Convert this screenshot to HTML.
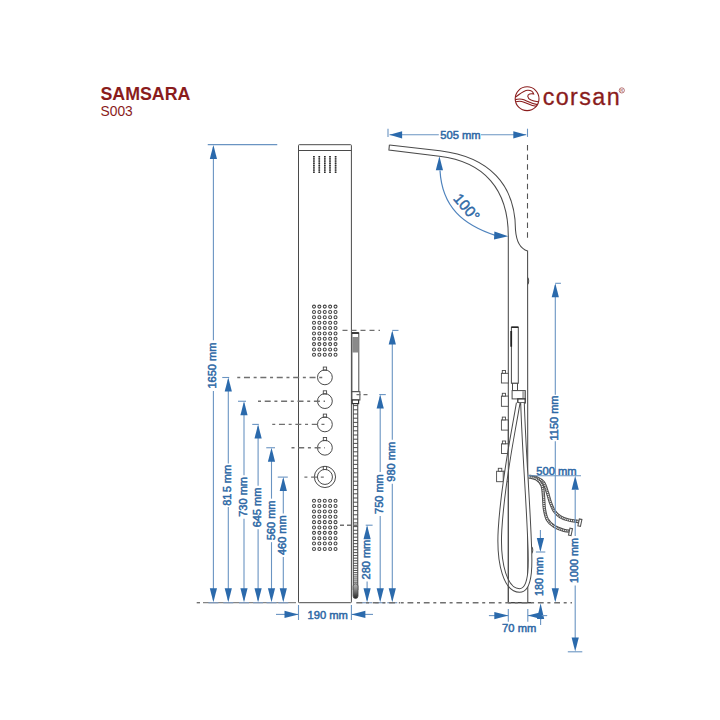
<!DOCTYPE html><html><head><meta charset="utf-8"><style>html,body{margin:0;padding:0;background:#fff;width:720px;height:720px;overflow:hidden}svg{display:block}</style></head><body><svg width="720" height="720" viewBox="0 0 720 720" font-family="Liberation Sans, sans-serif">
<rect width="720" height="720" fill="#ffffff"/>
<text x="100.5" y="99.5" font-size="17.8" font-weight="bold" fill="#8a1c1c">SAMSARA</text>
<text x="100.5" y="115.8" font-size="13.8" fill="#8a1c1c">S003</text>
<g fill="none" stroke="#8a1c1c" stroke-width="1.1"><circle cx="527.1" cy="98.7" r="11.9"/><path d="M515.3,97.2 C519,95 523,90.5 527.8,90.3 C531,90.2 533,92 533.6,94 C531,93.2 527.5,94.2 527.8,96.5 C528.2,99.5 533,101.2 538.2,101.8"/><path d="M515.2,99.6 C518,98.8 521,98.6 524,99.8 C528,101.5 532,103.8 537.6,104.6"/><path d="M516,101.8 C518.5,101 521,101 524,102.2 C528,104 531,105.6 536.4,106.3"/></g>
<text x="542.7" y="105" font-size="23.3" letter-spacing="1.4" fill="#8a1c1c" stroke="#8a1c1c" stroke-width="0.3">corsan</text>
<circle cx="621.8" cy="90.4" r="2.6" fill="none" stroke="#8a1c1c" stroke-width="0.6"/>
<text x="621.8" y="92.1" font-size="4" text-anchor="middle" fill="#8a1c1c">R</text>
<g fill="none" stroke="#4a4a4a" stroke-width="1">
<rect x="298.5" y="144.7" width="52.9" height="458" rx="0.8"/>
<line x1="298.5" y1="150.5" x2="351.4" y2="150.5"/>
</g>
<line x1="313.9" y1="156" x2="313.9" y2="172.8" stroke="#8a8a8a" stroke-width="1.5"/>
<rect x="313.10" y="156.00" width="1.6" height="1.15" fill="#2a2a2a"/>
<rect x="313.10" y="158.26" width="1.6" height="1.15" fill="#2a2a2a"/>
<rect x="313.10" y="160.52" width="1.6" height="1.15" fill="#2a2a2a"/>
<rect x="313.10" y="162.78" width="1.6" height="1.15" fill="#2a2a2a"/>
<rect x="313.10" y="165.04" width="1.6" height="1.15" fill="#2a2a2a"/>
<rect x="313.10" y="167.30" width="1.6" height="1.15" fill="#2a2a2a"/>
<rect x="313.10" y="169.56" width="1.6" height="1.15" fill="#2a2a2a"/>
<rect x="313.10" y="171.82" width="1.6" height="1.15" fill="#2a2a2a"/>
<line x1="319.3" y1="156" x2="319.3" y2="172.8" stroke="#8a8a8a" stroke-width="1.5"/>
<rect x="318.50" y="156.00" width="1.6" height="1.15" fill="#2a2a2a"/>
<rect x="318.50" y="158.26" width="1.6" height="1.15" fill="#2a2a2a"/>
<rect x="318.50" y="160.52" width="1.6" height="1.15" fill="#2a2a2a"/>
<rect x="318.50" y="162.78" width="1.6" height="1.15" fill="#2a2a2a"/>
<rect x="318.50" y="165.04" width="1.6" height="1.15" fill="#2a2a2a"/>
<rect x="318.50" y="167.30" width="1.6" height="1.15" fill="#2a2a2a"/>
<rect x="318.50" y="169.56" width="1.6" height="1.15" fill="#2a2a2a"/>
<rect x="318.50" y="171.82" width="1.6" height="1.15" fill="#2a2a2a"/>
<line x1="324.8" y1="156" x2="324.8" y2="172.8" stroke="#8a8a8a" stroke-width="1.5"/>
<rect x="324.00" y="156.00" width="1.6" height="1.15" fill="#2a2a2a"/>
<rect x="324.00" y="158.26" width="1.6" height="1.15" fill="#2a2a2a"/>
<rect x="324.00" y="160.52" width="1.6" height="1.15" fill="#2a2a2a"/>
<rect x="324.00" y="162.78" width="1.6" height="1.15" fill="#2a2a2a"/>
<rect x="324.00" y="165.04" width="1.6" height="1.15" fill="#2a2a2a"/>
<rect x="324.00" y="167.30" width="1.6" height="1.15" fill="#2a2a2a"/>
<rect x="324.00" y="169.56" width="1.6" height="1.15" fill="#2a2a2a"/>
<rect x="324.00" y="171.82" width="1.6" height="1.15" fill="#2a2a2a"/>
<line x1="330.0" y1="156" x2="330.0" y2="172.8" stroke="#8a8a8a" stroke-width="1.5"/>
<rect x="329.20" y="156.00" width="1.6" height="1.15" fill="#2a2a2a"/>
<rect x="329.20" y="158.26" width="1.6" height="1.15" fill="#2a2a2a"/>
<rect x="329.20" y="160.52" width="1.6" height="1.15" fill="#2a2a2a"/>
<rect x="329.20" y="162.78" width="1.6" height="1.15" fill="#2a2a2a"/>
<rect x="329.20" y="165.04" width="1.6" height="1.15" fill="#2a2a2a"/>
<rect x="329.20" y="167.30" width="1.6" height="1.15" fill="#2a2a2a"/>
<rect x="329.20" y="169.56" width="1.6" height="1.15" fill="#2a2a2a"/>
<rect x="329.20" y="171.82" width="1.6" height="1.15" fill="#2a2a2a"/>
<line x1="335.6" y1="156" x2="335.6" y2="172.8" stroke="#8a8a8a" stroke-width="1.5"/>
<rect x="334.80" y="156.00" width="1.6" height="1.15" fill="#2a2a2a"/>
<rect x="334.80" y="158.26" width="1.6" height="1.15" fill="#2a2a2a"/>
<rect x="334.80" y="160.52" width="1.6" height="1.15" fill="#2a2a2a"/>
<rect x="334.80" y="162.78" width="1.6" height="1.15" fill="#2a2a2a"/>
<rect x="334.80" y="165.04" width="1.6" height="1.15" fill="#2a2a2a"/>
<rect x="334.80" y="167.30" width="1.6" height="1.15" fill="#2a2a2a"/>
<rect x="334.80" y="169.56" width="1.6" height="1.15" fill="#2a2a2a"/>
<rect x="334.80" y="171.82" width="1.6" height="1.15" fill="#2a2a2a"/>
<circle cx="314.00" cy="306.60" r="1.5" fill="none" stroke="#444" stroke-width="1.05"/>
<circle cx="319.38" cy="306.60" r="1.5" fill="none" stroke="#444" stroke-width="1.05"/>
<circle cx="324.76" cy="306.60" r="1.5" fill="none" stroke="#444" stroke-width="1.05"/>
<circle cx="330.14" cy="306.60" r="1.5" fill="none" stroke="#444" stroke-width="1.05"/>
<circle cx="335.52" cy="306.60" r="1.5" fill="none" stroke="#444" stroke-width="1.05"/>
<circle cx="314.00" cy="311.96" r="1.5" fill="none" stroke="#444" stroke-width="1.05"/>
<circle cx="319.38" cy="311.96" r="1.5" fill="none" stroke="#444" stroke-width="1.05"/>
<circle cx="324.76" cy="311.96" r="1.5" fill="none" stroke="#444" stroke-width="1.05"/>
<circle cx="330.14" cy="311.96" r="1.5" fill="none" stroke="#444" stroke-width="1.05"/>
<circle cx="335.52" cy="311.96" r="1.5" fill="none" stroke="#444" stroke-width="1.05"/>
<circle cx="314.00" cy="317.32" r="1.5" fill="none" stroke="#444" stroke-width="1.05"/>
<circle cx="319.38" cy="317.32" r="1.5" fill="none" stroke="#444" stroke-width="1.05"/>
<circle cx="324.76" cy="317.32" r="1.5" fill="none" stroke="#444" stroke-width="1.05"/>
<circle cx="330.14" cy="317.32" r="1.5" fill="none" stroke="#444" stroke-width="1.05"/>
<circle cx="335.52" cy="317.32" r="1.5" fill="none" stroke="#444" stroke-width="1.05"/>
<circle cx="314.00" cy="322.68" r="1.5" fill="none" stroke="#444" stroke-width="1.05"/>
<circle cx="319.38" cy="322.68" r="1.5" fill="none" stroke="#444" stroke-width="1.05"/>
<circle cx="324.76" cy="322.68" r="1.5" fill="none" stroke="#444" stroke-width="1.05"/>
<circle cx="330.14" cy="322.68" r="1.5" fill="none" stroke="#444" stroke-width="1.05"/>
<circle cx="335.52" cy="322.68" r="1.5" fill="none" stroke="#444" stroke-width="1.05"/>
<circle cx="314.00" cy="328.04" r="1.5" fill="none" stroke="#444" stroke-width="1.05"/>
<circle cx="319.38" cy="328.04" r="1.5" fill="none" stroke="#444" stroke-width="1.05"/>
<circle cx="324.76" cy="328.04" r="1.5" fill="none" stroke="#444" stroke-width="1.05"/>
<circle cx="330.14" cy="328.04" r="1.5" fill="none" stroke="#444" stroke-width="1.05"/>
<circle cx="335.52" cy="328.04" r="1.5" fill="none" stroke="#444" stroke-width="1.05"/>
<circle cx="314.00" cy="333.40" r="1.5" fill="none" stroke="#444" stroke-width="1.05"/>
<circle cx="319.38" cy="333.40" r="1.5" fill="none" stroke="#444" stroke-width="1.05"/>
<circle cx="324.76" cy="333.40" r="1.5" fill="none" stroke="#444" stroke-width="1.05"/>
<circle cx="330.14" cy="333.40" r="1.5" fill="none" stroke="#444" stroke-width="1.05"/>
<circle cx="335.52" cy="333.40" r="1.5" fill="none" stroke="#444" stroke-width="1.05"/>
<circle cx="314.00" cy="338.76" r="1.5" fill="none" stroke="#444" stroke-width="1.05"/>
<circle cx="319.38" cy="338.76" r="1.5" fill="none" stroke="#444" stroke-width="1.05"/>
<circle cx="324.76" cy="338.76" r="1.5" fill="none" stroke="#444" stroke-width="1.05"/>
<circle cx="330.14" cy="338.76" r="1.5" fill="none" stroke="#444" stroke-width="1.05"/>
<circle cx="335.52" cy="338.76" r="1.5" fill="none" stroke="#444" stroke-width="1.05"/>
<circle cx="314.00" cy="344.12" r="1.5" fill="none" stroke="#444" stroke-width="1.05"/>
<circle cx="319.38" cy="344.12" r="1.5" fill="none" stroke="#444" stroke-width="1.05"/>
<circle cx="324.76" cy="344.12" r="1.5" fill="none" stroke="#444" stroke-width="1.05"/>
<circle cx="330.14" cy="344.12" r="1.5" fill="none" stroke="#444" stroke-width="1.05"/>
<circle cx="335.52" cy="344.12" r="1.5" fill="none" stroke="#444" stroke-width="1.05"/>
<circle cx="314.00" cy="349.48" r="1.5" fill="none" stroke="#444" stroke-width="1.05"/>
<circle cx="319.38" cy="349.48" r="1.5" fill="none" stroke="#444" stroke-width="1.05"/>
<circle cx="324.76" cy="349.48" r="1.5" fill="none" stroke="#444" stroke-width="1.05"/>
<circle cx="330.14" cy="349.48" r="1.5" fill="none" stroke="#444" stroke-width="1.05"/>
<circle cx="335.52" cy="349.48" r="1.5" fill="none" stroke="#444" stroke-width="1.05"/>
<circle cx="314.00" cy="354.84" r="1.5" fill="none" stroke="#444" stroke-width="1.05"/>
<circle cx="319.38" cy="354.84" r="1.5" fill="none" stroke="#444" stroke-width="1.05"/>
<circle cx="324.76" cy="354.84" r="1.5" fill="none" stroke="#444" stroke-width="1.05"/>
<circle cx="330.14" cy="354.84" r="1.5" fill="none" stroke="#444" stroke-width="1.05"/>
<circle cx="335.52" cy="354.84" r="1.5" fill="none" stroke="#444" stroke-width="1.05"/>
<circle cx="314.00" cy="500.70" r="1.5" fill="none" stroke="#444" stroke-width="1.05"/>
<circle cx="319.38" cy="500.70" r="1.5" fill="none" stroke="#444" stroke-width="1.05"/>
<circle cx="324.76" cy="500.70" r="1.5" fill="none" stroke="#444" stroke-width="1.05"/>
<circle cx="330.14" cy="500.70" r="1.5" fill="none" stroke="#444" stroke-width="1.05"/>
<circle cx="335.52" cy="500.70" r="1.5" fill="none" stroke="#444" stroke-width="1.05"/>
<circle cx="314.00" cy="506.06" r="1.5" fill="none" stroke="#444" stroke-width="1.05"/>
<circle cx="319.38" cy="506.06" r="1.5" fill="none" stroke="#444" stroke-width="1.05"/>
<circle cx="324.76" cy="506.06" r="1.5" fill="none" stroke="#444" stroke-width="1.05"/>
<circle cx="330.14" cy="506.06" r="1.5" fill="none" stroke="#444" stroke-width="1.05"/>
<circle cx="335.52" cy="506.06" r="1.5" fill="none" stroke="#444" stroke-width="1.05"/>
<circle cx="314.00" cy="511.42" r="1.5" fill="none" stroke="#444" stroke-width="1.05"/>
<circle cx="319.38" cy="511.42" r="1.5" fill="none" stroke="#444" stroke-width="1.05"/>
<circle cx="324.76" cy="511.42" r="1.5" fill="none" stroke="#444" stroke-width="1.05"/>
<circle cx="330.14" cy="511.42" r="1.5" fill="none" stroke="#444" stroke-width="1.05"/>
<circle cx="335.52" cy="511.42" r="1.5" fill="none" stroke="#444" stroke-width="1.05"/>
<circle cx="314.00" cy="516.78" r="1.5" fill="none" stroke="#444" stroke-width="1.05"/>
<circle cx="319.38" cy="516.78" r="1.5" fill="none" stroke="#444" stroke-width="1.05"/>
<circle cx="324.76" cy="516.78" r="1.5" fill="none" stroke="#444" stroke-width="1.05"/>
<circle cx="330.14" cy="516.78" r="1.5" fill="none" stroke="#444" stroke-width="1.05"/>
<circle cx="335.52" cy="516.78" r="1.5" fill="none" stroke="#444" stroke-width="1.05"/>
<circle cx="314.00" cy="522.14" r="1.5" fill="none" stroke="#444" stroke-width="1.05"/>
<circle cx="319.38" cy="522.14" r="1.5" fill="none" stroke="#444" stroke-width="1.05"/>
<circle cx="324.76" cy="522.14" r="1.5" fill="none" stroke="#444" stroke-width="1.05"/>
<circle cx="330.14" cy="522.14" r="1.5" fill="none" stroke="#444" stroke-width="1.05"/>
<circle cx="335.52" cy="522.14" r="1.5" fill="none" stroke="#444" stroke-width="1.05"/>
<circle cx="314.00" cy="527.50" r="1.5" fill="none" stroke="#444" stroke-width="1.05"/>
<circle cx="319.38" cy="527.50" r="1.5" fill="none" stroke="#444" stroke-width="1.05"/>
<circle cx="324.76" cy="527.50" r="1.5" fill="none" stroke="#444" stroke-width="1.05"/>
<circle cx="330.14" cy="527.50" r="1.5" fill="none" stroke="#444" stroke-width="1.05"/>
<circle cx="335.52" cy="527.50" r="1.5" fill="none" stroke="#444" stroke-width="1.05"/>
<circle cx="314.00" cy="532.86" r="1.5" fill="none" stroke="#444" stroke-width="1.05"/>
<circle cx="319.38" cy="532.86" r="1.5" fill="none" stroke="#444" stroke-width="1.05"/>
<circle cx="324.76" cy="532.86" r="1.5" fill="none" stroke="#444" stroke-width="1.05"/>
<circle cx="330.14" cy="532.86" r="1.5" fill="none" stroke="#444" stroke-width="1.05"/>
<circle cx="335.52" cy="532.86" r="1.5" fill="none" stroke="#444" stroke-width="1.05"/>
<circle cx="314.00" cy="538.22" r="1.5" fill="none" stroke="#444" stroke-width="1.05"/>
<circle cx="319.38" cy="538.22" r="1.5" fill="none" stroke="#444" stroke-width="1.05"/>
<circle cx="324.76" cy="538.22" r="1.5" fill="none" stroke="#444" stroke-width="1.05"/>
<circle cx="330.14" cy="538.22" r="1.5" fill="none" stroke="#444" stroke-width="1.05"/>
<circle cx="335.52" cy="538.22" r="1.5" fill="none" stroke="#444" stroke-width="1.05"/>
<circle cx="314.00" cy="543.58" r="1.5" fill="none" stroke="#444" stroke-width="1.05"/>
<circle cx="319.38" cy="543.58" r="1.5" fill="none" stroke="#444" stroke-width="1.05"/>
<circle cx="324.76" cy="543.58" r="1.5" fill="none" stroke="#444" stroke-width="1.05"/>
<circle cx="330.14" cy="543.58" r="1.5" fill="none" stroke="#444" stroke-width="1.05"/>
<circle cx="335.52" cy="543.58" r="1.5" fill="none" stroke="#444" stroke-width="1.05"/>
<circle cx="314.00" cy="548.94" r="1.5" fill="none" stroke="#444" stroke-width="1.05"/>
<circle cx="319.38" cy="548.94" r="1.5" fill="none" stroke="#444" stroke-width="1.05"/>
<circle cx="324.76" cy="548.94" r="1.5" fill="none" stroke="#444" stroke-width="1.05"/>
<circle cx="330.14" cy="548.94" r="1.5" fill="none" stroke="#444" stroke-width="1.05"/>
<circle cx="335.52" cy="548.94" r="1.5" fill="none" stroke="#444" stroke-width="1.05"/>
<circle cx="324.9" cy="377.35" r="7.4" fill="none" stroke="#4a4a4a" stroke-width="1"/>
<rect x="323.3" y="367.05" width="3.3" height="3.2" fill="none" stroke="#4a4a4a" stroke-width="0.9"/>
<circle cx="324.9" cy="401.1" r="7.4" fill="none" stroke="#4a4a4a" stroke-width="1"/>
<rect x="323.3" y="390.80" width="3.3" height="3.2" fill="none" stroke="#4a4a4a" stroke-width="0.9"/>
<circle cx="324.9" cy="424.4" r="7.4" fill="none" stroke="#4a4a4a" stroke-width="1"/>
<rect x="323.3" y="414.10" width="3.3" height="3.2" fill="none" stroke="#4a4a4a" stroke-width="0.9"/>
<circle cx="324.9" cy="447.75" r="7.4" fill="none" stroke="#4a4a4a" stroke-width="1"/>
<rect x="323.3" y="437.45" width="3.3" height="3.2" fill="none" stroke="#4a4a4a" stroke-width="0.9"/>
<circle cx="324.95" cy="476.95" r="10.6" fill="none" stroke="#4a4a4a" stroke-width="1"/>
<circle cx="324.95" cy="476.95" r="7.5" fill="none" stroke="#4a4a4a" stroke-width="1"/>
<rect x="323.3" y="466.4" width="3.3" height="3.1" fill="#fff" stroke="#4a4a4a" stroke-width="0.9"/>
<rect x="351.9" y="333" width="6.9" height="58.7" fill="#fff" stroke="#4a4a4a" stroke-width="1"/>
<line x1="351.9" y1="333" x2="358.8" y2="333" stroke="#222" stroke-width="1.6"/>
<rect x="352.4" y="337" width="5.9" height="15.5" fill="#8a8a8a"/>
<rect x="351.9" y="391.7" width="8" height="8.3" fill="#fff" stroke="#4a4a4a" stroke-width="1"/>
<rect x="352.2" y="400" width="6.4" height="3.6" fill="#fff" stroke="#333" stroke-width="1.2"/>
<line x1="353.3" y1="404" x2="353.3" y2="590" stroke="#4a4a4a" stroke-width="1.05"/>
<line x1="357.75" y1="404" x2="357.75" y2="590" stroke="#4a4a4a" stroke-width="1.05"/>
<line x1="353.3" y1="405.60" x2="357.75" y2="405.60" stroke="#444" stroke-width="0.95"/>
<line x1="353.3" y1="409.80" x2="357.75" y2="409.80" stroke="#444" stroke-width="0.95"/>
<line x1="353.3" y1="414.00" x2="357.75" y2="414.00" stroke="#444" stroke-width="0.95"/>
<line x1="353.3" y1="418.20" x2="357.75" y2="418.20" stroke="#444" stroke-width="0.95"/>
<line x1="353.3" y1="422.40" x2="357.75" y2="422.40" stroke="#444" stroke-width="0.95"/>
<line x1="353.3" y1="426.60" x2="357.75" y2="426.60" stroke="#444" stroke-width="0.95"/>
<line x1="353.3" y1="430.80" x2="357.75" y2="430.80" stroke="#444" stroke-width="0.95"/>
<line x1="353.3" y1="435.00" x2="357.75" y2="435.00" stroke="#444" stroke-width="0.95"/>
<line x1="353.3" y1="439.20" x2="357.75" y2="439.20" stroke="#444" stroke-width="0.95"/>
<line x1="353.3" y1="443.40" x2="357.75" y2="443.40" stroke="#444" stroke-width="0.95"/>
<line x1="353.3" y1="447.60" x2="357.75" y2="447.60" stroke="#444" stroke-width="0.95"/>
<line x1="353.3" y1="451.80" x2="357.75" y2="451.80" stroke="#444" stroke-width="0.95"/>
<line x1="353.3" y1="456.00" x2="357.75" y2="456.00" stroke="#444" stroke-width="0.95"/>
<line x1="353.3" y1="460.20" x2="357.75" y2="460.20" stroke="#444" stroke-width="0.95"/>
<line x1="353.3" y1="464.40" x2="357.75" y2="464.40" stroke="#444" stroke-width="0.95"/>
<line x1="353.3" y1="468.60" x2="357.75" y2="468.60" stroke="#444" stroke-width="0.95"/>
<line x1="353.3" y1="472.80" x2="357.75" y2="472.80" stroke="#444" stroke-width="0.95"/>
<line x1="353.3" y1="477.00" x2="357.75" y2="477.00" stroke="#444" stroke-width="0.95"/>
<line x1="353.3" y1="481.20" x2="357.75" y2="481.20" stroke="#444" stroke-width="0.95"/>
<line x1="353.3" y1="485.40" x2="357.75" y2="485.40" stroke="#444" stroke-width="0.95"/>
<line x1="353.3" y1="489.60" x2="357.75" y2="489.60" stroke="#444" stroke-width="0.95"/>
<line x1="353.3" y1="493.80" x2="357.75" y2="493.80" stroke="#444" stroke-width="0.95"/>
<line x1="353.3" y1="498.00" x2="357.75" y2="498.00" stroke="#444" stroke-width="0.95"/>
<line x1="353.3" y1="502.20" x2="357.75" y2="502.20" stroke="#444" stroke-width="0.95"/>
<line x1="353.3" y1="506.40" x2="357.75" y2="506.40" stroke="#444" stroke-width="0.95"/>
<line x1="353.3" y1="510.60" x2="357.75" y2="510.60" stroke="#444" stroke-width="0.95"/>
<line x1="353.3" y1="514.80" x2="357.75" y2="514.80" stroke="#444" stroke-width="0.95"/>
<line x1="353.3" y1="519.00" x2="357.75" y2="519.00" stroke="#444" stroke-width="0.95"/>
<line x1="353.3" y1="522.87" x2="357.75" y2="522.87" stroke="#444" stroke-width="0.95"/>
<line x1="353.3" y1="526.62" x2="357.75" y2="526.62" stroke="#444" stroke-width="0.95"/>
<line x1="353.3" y1="530.25" x2="357.75" y2="530.25" stroke="#444" stroke-width="0.95"/>
<line x1="353.3" y1="533.76" x2="357.75" y2="533.76" stroke="#444" stroke-width="0.95"/>
<line x1="353.3" y1="537.17" x2="357.75" y2="537.17" stroke="#444" stroke-width="0.95"/>
<line x1="353.3" y1="540.46" x2="357.75" y2="540.46" stroke="#444" stroke-width="0.95"/>
<line x1="353.3" y1="543.65" x2="357.75" y2="543.65" stroke="#444" stroke-width="0.95"/>
<line x1="353.3" y1="546.73" x2="357.75" y2="546.73" stroke="#444" stroke-width="0.95"/>
<line x1="353.3" y1="549.72" x2="357.75" y2="549.72" stroke="#444" stroke-width="0.95"/>
<line x1="353.3" y1="552.62" x2="357.75" y2="552.62" stroke="#444" stroke-width="0.95"/>
<line x1="353.3" y1="555.42" x2="357.75" y2="555.42" stroke="#444" stroke-width="0.95"/>
<line x1="353.3" y1="558.13" x2="357.75" y2="558.13" stroke="#444" stroke-width="0.95"/>
<line x1="353.3" y1="560.75" x2="357.75" y2="560.75" stroke="#444" stroke-width="0.95"/>
<line x1="353.3" y1="563.29" x2="357.75" y2="563.29" stroke="#444" stroke-width="0.95"/>
<line x1="353.3" y1="565.75" x2="357.75" y2="565.75" stroke="#444" stroke-width="0.95"/>
<line x1="353.3" y1="568.14" x2="357.75" y2="568.14" stroke="#444" stroke-width="0.95"/>
<line x1="353.3" y1="570.44" x2="357.75" y2="570.44" stroke="#444" stroke-width="0.95"/>
<line x1="353.3" y1="572.67" x2="357.75" y2="572.67" stroke="#444" stroke-width="0.95"/>
<line x1="353.3" y1="574.83" x2="357.75" y2="574.83" stroke="#444" stroke-width="0.95"/>
<line x1="353.3" y1="576.93" x2="357.75" y2="576.93" stroke="#444" stroke-width="0.95"/>
<line x1="353.3" y1="578.95" x2="357.75" y2="578.95" stroke="#444" stroke-width="0.95"/>
<line x1="353.3" y1="580.91" x2="357.75" y2="580.91" stroke="#444" stroke-width="0.95"/>
<line x1="353.3" y1="582.81" x2="357.75" y2="582.81" stroke="#444" stroke-width="0.95"/>
<defs><linearGradient id="hg" x1="0" x2="1"><stop offset="0" stop-color="#333"/><stop offset="0.5" stop-color="#999"/><stop offset="1" stop-color="#333"/></linearGradient></defs>
<defs><linearGradient id="hv" x1="0" y1="0" x2="0" y2="1"><stop offset="0" stop-color="#bbb"/><stop offset="0.6" stop-color="#666"/><stop offset="1" stop-color="#222"/></linearGradient></defs>
<rect x="353.1" y="583.8" width="4.9" height="14.7" rx="2.4" fill="url(#hv)" stroke="#444" stroke-width="0.8"/>
<line x1="196.7" y1="602.7" x2="200" y2="602.7" stroke="#707070" stroke-width="1.35" stroke-dasharray="4 100" stroke-dashoffset="0"/>
<line x1="203" y1="602.7" x2="296" y2="602.7" stroke="#858585" stroke-width="1.25" />
<line x1="208.4" y1="602.7" x2="218.4" y2="602.7" stroke="#7f9bbd" stroke-width="1.25" />
<line x1="223.3" y1="602.7" x2="233.3" y2="602.7" stroke="#7f9bbd" stroke-width="1.25" />
<line x1="239.0" y1="602.7" x2="249.0" y2="602.7" stroke="#7f9bbd" stroke-width="1.25" />
<line x1="253.10000000000002" y1="602.7" x2="263.1" y2="602.7" stroke="#7f9bbd" stroke-width="1.25" />
<line x1="266.5" y1="602.7" x2="276.5" y2="602.7" stroke="#7f9bbd" stroke-width="1.25" />
<line x1="278.3" y1="602.7" x2="288.3" y2="602.7" stroke="#7f9bbd" stroke-width="1.25" />
<line x1="362.1" y1="602.7" x2="372.1" y2="602.7" stroke="#7f9bbd" stroke-width="1.25" />
<line x1="375.2" y1="602.7" x2="385.2" y2="602.7" stroke="#7f9bbd" stroke-width="1.25" />
<line x1="387.3" y1="602.7" x2="397.3" y2="602.7" stroke="#7f9bbd" stroke-width="1.25" />
<line x1="356.3" y1="602.7" x2="400" y2="602.7" stroke="#707070" stroke-width="1.35" stroke-dasharray="6 3.7 3 3.7" stroke-dashoffset="0"/>
<line x1="207.75" y1="144.6" x2="277.25" y2="144.6" stroke="#6a94c2" stroke-width="1.1" />
<line x1="213.4" y1="147" x2="213.4" y2="340.3" stroke="#6a94c2" stroke-width="1.1" />
<line x1="213.4" y1="390.90000000000003" x2="213.4" y2="600.3" stroke="#6a94c2" stroke-width="1.1" />
<polygon points="213.40,145.00 209.80,159.00 217.00,159.00" fill="#2b6aac"/>
<polygon points="213.40,602.30 209.80,588.30 217.00,588.30" fill="#2b6aac"/>
<text transform="translate(216.44,365.60) rotate(-90) scale(1,0.95)" text-anchor="middle" font-size="11" fill="#2f69a6" stroke="#2f69a6" stroke-width="0.5">1650 mm</text>
<line x1="222.25" y1="377.5" x2="229.2" y2="377.5" stroke="#6a94c2" stroke-width="1.1" />
<line x1="228.3" y1="379.5" x2="228.3" y2="463.55" stroke="#6a94c2" stroke-width="1.1" />
<line x1="228.3" y1="507.05" x2="228.3" y2="600.3" stroke="#6a94c2" stroke-width="1.1" />
<polygon points="228.30,377.50 224.70,391.50 231.90,391.50" fill="#2b6aac"/>
<polygon points="228.30,602.30 224.70,588.30 231.90,588.30" fill="#2b6aac"/>
<text transform="translate(231.34,485.30) rotate(-90) scale(1,0.95)" text-anchor="middle" font-size="11" fill="#2f69a6" stroke="#2f69a6" stroke-width="0.5">81<tspan dx='1.2'>5</tspan> mm</text>
<line x1="237.25" y1="377.5" x2="325" y2="377.5" stroke="#707070" stroke-width="1.35" stroke-dasharray="3 3.7 6 3.7" stroke-dashoffset="0"/>
<line x1="238.0" y1="401.25" x2="246.0" y2="401.25" stroke="#6a94c2" stroke-width="1.1" />
<line x1="244.0" y1="403.25" x2="244.0" y2="475.15" stroke="#6a94c2" stroke-width="1.1" />
<line x1="244.0" y1="518.65" x2="244.0" y2="600.3" stroke="#6a94c2" stroke-width="1.1" />
<polygon points="244.00,401.25 240.40,415.25 247.60,415.25" fill="#2b6aac"/>
<polygon points="244.00,602.30 240.40,588.30 247.60,588.30" fill="#2b6aac"/>
<text transform="translate(247.04,496.90) rotate(-90) scale(1,0.95)" text-anchor="middle" font-size="11" fill="#2f69a6" stroke="#2f69a6" stroke-width="0.5">730 mm</text>
<line x1="258.0" y1="401.25" x2="325" y2="401.25" stroke="#707070" stroke-width="1.35" stroke-dasharray="3 3.7 6 3.7" stroke-dashoffset="0"/>
<line x1="252.25" y1="424.4" x2="258.8" y2="424.4" stroke="#6a94c2" stroke-width="1.1" />
<line x1="258.1" y1="426.4" x2="258.1" y2="485.75" stroke="#6a94c2" stroke-width="1.1" />
<line x1="258.1" y1="529.25" x2="258.1" y2="600.3" stroke="#6a94c2" stroke-width="1.1" />
<polygon points="258.10,424.40 254.50,438.40 261.70,438.40" fill="#2b6aac"/>
<polygon points="258.10,602.30 254.50,588.30 261.70,588.30" fill="#2b6aac"/>
<text transform="translate(261.14,507.50) rotate(-90) scale(1,0.95)" text-anchor="middle" font-size="11" fill="#2f69a6" stroke="#2f69a6" stroke-width="0.5">645 mm</text>
<line x1="272.25" y1="424.4" x2="325" y2="424.4" stroke="#707070" stroke-width="1.35" stroke-dasharray="3 3.7 6 3.7" stroke-dashoffset="0"/>
<line x1="266.25" y1="447.75" x2="275.0" y2="447.75" stroke="#6a94c2" stroke-width="1.1" />
<line x1="271.5" y1="449.75" x2="271.5" y2="498.65" stroke="#6a94c2" stroke-width="1.1" />
<line x1="271.5" y1="542.15" x2="271.5" y2="600.3" stroke="#6a94c2" stroke-width="1.1" />
<polygon points="271.50,447.75 267.90,461.75 275.10,461.75" fill="#2b6aac"/>
<polygon points="271.50,602.30 267.90,588.30 275.10,588.30" fill="#2b6aac"/>
<text transform="translate(274.54,520.40) rotate(-90) scale(1,0.95)" text-anchor="middle" font-size="11" fill="#2f69a6" stroke="#2f69a6" stroke-width="0.5">560 mm</text>
<line x1="291.5" y1="447.75" x2="325" y2="447.75" stroke="#707070" stroke-width="1.35" stroke-dasharray="3 3.7 6 3.7" stroke-dashoffset="0"/>
<line x1="277.75" y1="477.1" x2="287.8" y2="477.1" stroke="#6a94c2" stroke-width="1.1" />
<line x1="283.3" y1="479.1" x2="283.3" y2="513.45" stroke="#6a94c2" stroke-width="1.1" />
<line x1="283.3" y1="556.95" x2="283.3" y2="600.3" stroke="#6a94c2" stroke-width="1.1" />
<polygon points="283.30,477.10 279.70,491.10 286.90,491.10" fill="#2b6aac"/>
<polygon points="283.30,602.30 279.70,588.30 286.90,588.30" fill="#2b6aac"/>
<text transform="translate(286.34,535.20) rotate(-90) scale(1,0.95)" text-anchor="middle" font-size="11" fill="#2f69a6" stroke="#2f69a6" stroke-width="0.5">460 mm</text>
<line x1="304.4" y1="477.1" x2="325" y2="477.1" stroke="#707070" stroke-width="1.35" stroke-dasharray="3 3.7 6 3.7" stroke-dashoffset="0"/>
<line x1="342.5" y1="330.4" x2="380" y2="330.4" stroke="#707070" stroke-width="1.35" stroke-dasharray="5 4" stroke-dashoffset="0"/>
<line x1="392.3" y1="330.4" x2="398.5" y2="330.4" stroke="#6a94c2" stroke-width="1.1" />
<line x1="392.3" y1="332.4" x2="392.3" y2="439.8" stroke="#6a94c2" stroke-width="1.1" />
<line x1="392.3" y1="483.8" x2="392.3" y2="600.3" stroke="#6a94c2" stroke-width="1.1" />
<polygon points="392.30,330.40 388.70,344.40 395.90,344.40" fill="#2b6aac"/>
<polygon points="392.30,602.30 388.70,588.30 395.90,588.30" fill="#2b6aac"/>
<text transform="translate(395.34,461.80) rotate(-90) scale(1,0.95)" text-anchor="middle" font-size="11" fill="#2f69a6" stroke="#2f69a6" stroke-width="0.5">980 mm</text>
<line x1="356.5" y1="394.6" x2="369.6" y2="394.6" stroke="#707070" stroke-width="1.35" stroke-dasharray="4 3" stroke-dashoffset="0"/>
<line x1="379.2" y1="394.6" x2="385.8" y2="394.6" stroke="#6a94c2" stroke-width="1.1" />
<line x1="380.2" y1="396.6" x2="380.2" y2="472.1" stroke="#6a94c2" stroke-width="1.1" />
<line x1="380.2" y1="516.1" x2="380.2" y2="600.3" stroke="#6a94c2" stroke-width="1.1" />
<polygon points="380.20,394.60 376.60,408.60 383.80,408.60" fill="#2b6aac"/>
<polygon points="380.20,602.30 376.60,588.30 383.80,588.30" fill="#2b6aac"/>
<text transform="translate(383.24,494.10) rotate(-90) scale(1,0.95)" text-anchor="middle" font-size="11" fill="#2f69a6" stroke="#2f69a6" stroke-width="0.5">750 mm</text>
<line x1="340" y1="525.2" x2="361" y2="525.2" stroke="#707070" stroke-width="1.35" stroke-dasharray="4 3" stroke-dashoffset="0"/>
<line x1="365.7" y1="525.2" x2="372.6" y2="525.2" stroke="#6a94c2" stroke-width="1.1" />
<line x1="367.1" y1="527.2" x2="367.1" y2="537.6" stroke="#6a94c2" stroke-width="1.1" />
<line x1="367.1" y1="581.6" x2="367.1" y2="600.3" stroke="#6a94c2" stroke-width="1.1" />
<polygon points="367.10,525.20 363.50,539.20 370.70,539.20" fill="#2b6aac"/>
<polygon points="367.10,602.30 363.50,588.30 370.70,588.30" fill="#2b6aac"/>
<text transform="translate(370.14,559.60) rotate(-90) scale(1,0.95)" text-anchor="middle" font-size="11" fill="#2f69a6" stroke="#2f69a6" stroke-width="0.5">280 mm</text>
<line x1="298.5" y1="605" x2="298.5" y2="620" stroke="#6a94c2" stroke-width="1.1" />
<line x1="351.4" y1="605" x2="351.4" y2="620" stroke="#6a94c2" stroke-width="1.1" />
<line x1="276" y1="614.4" x2="298.5" y2="614.4" stroke="#6a94c2" stroke-width="1.1" />
<polygon points="298.50,614.40 284.50,610.80 284.50,618.00" fill="#2b6aac"/>
<line x1="351.4" y1="614.4" x2="373" y2="614.4" stroke="#6a94c2" stroke-width="1.1" />
<polygon points="351.40,614.40 365.40,610.80 365.40,618.00" fill="#2b6aac"/>
<text x="327.7" y="618.6" font-size="11.2" text-anchor="middle" fill="#2f69a6" stroke="#2f69a6" stroke-width="0.5">190 mm</text>
<path d="M389.4,144.9 L440,150.8 C489.1,156.9 515.5,184.6 515.5,230 C516.5,243 521,249 527.6,251 L527.8,602.7" fill="none" stroke="#4a4a4a" stroke-width="1.05"/>
<path d="M389.4,144.9 L388.9,150.1 L439.4,156.3 C484,161.8 508.3,189 508.3,236 L508.3,602.7" fill="none" stroke="#4a4a4a" stroke-width="1.05"/>
<line x1="508.3" y1="602.7" x2="531.5" y2="602.7" stroke="#444" stroke-width="1.4"/>
<path d="M527.8,277.5 C529,279 529,283 527.8,284.5" fill="none" stroke="#4a4a4a" stroke-width="1"/>
<path d="M531.6,546.5 C533.2,548 533.2,552 531.6,553.8" fill="none" stroke="#4a4a4a" stroke-width="1"/>
<line x1="527.5" y1="144.9" x2="527.5" y2="241" stroke="#555" stroke-width="1.1" stroke-dasharray="5.5 4.2" stroke-dashoffset="0"/>
<line x1="388.0" y1="128.7" x2="388.0" y2="136.9" stroke="#6a94c2" stroke-width="1.1" />
<line x1="527.5" y1="128.7" x2="527.5" y2="136.9" stroke="#6a94c2" stroke-width="1.1" />
<line x1="389.5" y1="134.8" x2="438.8" y2="134.8" stroke="#6a94c2" stroke-width="1.1" />
<line x1="481" y1="134.8" x2="526.3" y2="134.8" stroke="#6a94c2" stroke-width="1.1" />
<polygon points="389.50,134.80 402.10,131.20 402.10,138.40" fill="#2b6aac"/>
<polygon points="526.30,134.80 513.30,131.20 513.30,138.40" fill="#2b6aac"/>
<text x="460.5" y="139" font-size="11.2" text-anchor="middle" fill="#2f69a6" stroke="#2f69a6" stroke-width="0.5">505 mm</text>
<path d="M440,170.5 C442.1,207.3 463.2,225 496,235.6" fill="none" stroke="#4f83bd" stroke-width="1.2"/>
<polygon points="439.40,156.30 435.80,170.30 443.00,170.30" fill="#2b6aac"/>
<polygon points="508.3,236.2 494.4,231.6 494.0,239.4" fill="#2b6aac"/>
<text transform="translate(466.5,207.5) rotate(49)" text-anchor="middle" font-size="15" fill="#2f69a6" stroke="#2f69a6" stroke-width="0.45" dy="5">100°</text>
<rect x="511.4" y="327.2" width="6.9" height="56.1" fill="#fff" stroke="#4a4a4a" stroke-width="1"/>
<line x1="511.4" y1="327.2" x2="518.3" y2="327.2" stroke="#222" stroke-width="1.5"/>
<line x1="511.2" y1="331" x2="511.2" y2="346.7" stroke="#222" stroke-width="1.8"/>
<rect x="512.5" y="383.3" width="5" height="7.2" fill="#fff" stroke="#4a4a4a" stroke-width="1"/>
<rect x="512.1" y="390.6" width="13.2" height="8.3" fill="#fff" stroke="#4a4a4a" stroke-width="1"/>
<rect x="522.2" y="391.1" width="2.6" height="7.3" fill="#aaa"/>
<rect x="517.8" y="398.9" width="7.4" height="4" fill="#fff" stroke="#333" stroke-width="1.3"/>
<rect x="501.4" y="373.3" width="6.90" height="9.70" fill="#fff" stroke="#4a4a4a" stroke-width="0.9"/>
<rect x="502.30" y="370.50" width="3.2" height="2.8" fill="#fff" stroke="#4a4a4a" stroke-width="0.9"/>
<rect x="501.4" y="396.1" width="6.90" height="10.20" fill="#fff" stroke="#4a4a4a" stroke-width="0.9"/>
<rect x="502.30" y="393.30" width="3.2" height="2.8" fill="#fff" stroke="#4a4a4a" stroke-width="0.9"/>
<rect x="501.4" y="419.9" width="6.90" height="10.20" fill="#fff" stroke="#4a4a4a" stroke-width="0.9"/>
<rect x="502.30" y="417.10" width="3.2" height="2.8" fill="#fff" stroke="#4a4a4a" stroke-width="0.9"/>
<rect x="501.5" y="443.8" width="6.80" height="9.70" fill="#fff" stroke="#4a4a4a" stroke-width="0.9"/>
<rect x="502.40" y="441.00" width="3.2" height="2.8" fill="#fff" stroke="#4a4a4a" stroke-width="0.9"/>
<rect x="496.6" y="471.25" width="6.6" height="10.45" fill="#fff" stroke="#4a4a4a" stroke-width="0.9"/>
<rect x="498.3" y="468.3" width="3.5" height="2.95" fill="#fff" stroke="#4a4a4a" stroke-width="0.9"/>
<line x1="503.2" y1="471.25" x2="508.3" y2="471.25" stroke="#4a4a4a" stroke-width="0.9"/>
<line x1="503.2" y1="481.7" x2="508.3" y2="481.7" stroke="#4a4a4a" stroke-width="0.9"/>
<path d="M518.2,403 C512,440 503,480 500,530 C498,565 506,590.5 519.5,590.5 C532,590.5 530.5,560 529.5,540 C528,500 524,450 522.5,403" fill="none" stroke="#4a4a4a" stroke-width="4.6"/>
<path d="M518.2,403 C512,440 503,480 500,530 C498,565 506,590.5 519.5,590.5 C532,590.5 530.5,560 529.5,540 C528,500 524,450 522.5,403" fill="none" stroke="#fff" stroke-width="2.6"/>
<line x1="508.3" y1="420" x2="508.3" y2="602.7" stroke="#4a4a4a" stroke-width="1"/>
<path d="M528.90,476.30 C530.20,476.55 534.27,476.75 536.70,477.80 C539.13,478.85 541.72,480.17 543.50,482.60 C545.28,485.03 546.27,489.15 547.40,492.40 C548.53,495.65 549.17,499.03 550.30,502.10 C551.43,505.17 552.58,508.38 554.20,510.80 C555.82,513.22 557.58,515.07 560.00,516.60 C562.42,518.13 565.62,519.18 568.70,520.00 C571.78,520.82 576.87,521.25 578.50,521.50" fill="none" stroke="#505050" stroke-width="3.3"/>
<path d="M528.90,476.30 C530.20,476.55 534.27,476.75 536.70,477.80 C539.13,478.85 541.72,480.17 543.50,482.60 C545.28,485.03 546.27,489.15 547.40,492.40 C548.53,495.65 549.17,499.03 550.30,502.10 C551.43,505.17 552.58,508.38 554.20,510.80 C555.82,513.22 557.58,515.07 560.00,516.60 C562.42,518.13 565.62,519.18 568.70,520.00 C571.78,520.82 576.87,521.25 578.50,521.50" fill="none" stroke="#fff" stroke-width="1.3" stroke-dasharray="1 0.9"/>
<path d="M528.90,476.80 C530.20,477.20 534.52,477.75 536.70,479.20 C538.88,480.65 540.87,482.67 542.00,485.50 C543.13,488.33 543.10,492.30 543.50,496.20 C543.90,500.10 543.75,505.00 544.40,508.90 C545.05,512.80 545.77,516.68 547.40,519.60 C549.03,522.52 551.45,524.62 554.20,526.40 C556.95,528.18 561.15,529.50 563.90,530.30 C566.65,531.10 569.57,531.05 570.70,531.20" fill="none" stroke="#505050" stroke-width="3.3"/>
<path d="M528.90,476.80 C530.20,477.20 534.52,477.75 536.70,479.20 C538.88,480.65 540.87,482.67 542.00,485.50 C543.13,488.33 543.10,492.30 543.50,496.20 C543.90,500.10 543.75,505.00 544.40,508.90 C545.05,512.80 545.77,516.68 547.40,519.60 C549.03,522.52 551.45,524.62 554.20,526.40 C556.95,528.18 561.15,529.50 563.90,530.30 C566.65,531.10 569.57,531.05 570.70,531.20" fill="none" stroke="#fff" stroke-width="1.3" stroke-dasharray="1 0.9"/>
<rect x="578.6" y="519.2" width="2.6" height="7" transform="rotate(12 579.9 522.7)" fill="#fff" stroke="#555" stroke-width="1.1"/>
<rect x="569.2" y="528.4" width="2.6" height="7" transform="rotate(12 570.5 531.9)" fill="#fff" stroke="#555" stroke-width="1.1"/>
<line x1="400.7" y1="602.7" x2="572" y2="602.7" stroke="#707070" stroke-width="1.35" stroke-dasharray="3 3.8 5.8 3.7" stroke-dashoffset="0"/>
<line x1="555.3" y1="283.3" x2="560.9" y2="283.3" stroke="#6a94c2" stroke-width="1.1" />
<line x1="555.3" y1="285.3" x2="555.3" y2="394.75" stroke="#6a94c2" stroke-width="1.1" />
<line x1="555.3" y1="441.25" x2="555.3" y2="600.3" stroke="#6a94c2" stroke-width="1.1" />
<polygon points="555.30,283.30 551.70,297.30 558.90,297.30" fill="#2b6aac"/>
<polygon points="555.30,602.30 551.70,588.30 558.90,588.30" fill="#2b6aac"/>
<text transform="translate(558.34,418.00) rotate(-90) scale(1,0.95)" text-anchor="middle" font-size="11" fill="#2f69a6" stroke="#2f69a6" stroke-width="0.5">1150 mm</text>
<line x1="528" y1="475.8" x2="581" y2="475.8" stroke="#6a94c2" stroke-width="1.1" />
<text x="556.4" y="474.6" font-size="11.2" text-anchor="middle" fill="#2f69a6" stroke="#2f69a6" stroke-width="0.5">500 mm</text>
<line x1="567.8" y1="651.8" x2="582.3" y2="651.8" stroke="#6a94c2" stroke-width="1.1" />
<line x1="575.2" y1="490" x2="575.2" y2="536" stroke="#6a94c2" stroke-width="1.1" />
<line x1="575.2" y1="585.5" x2="575.2" y2="640" stroke="#6a94c2" stroke-width="1.1" />
<polygon points="575.20,475.80 571.60,489.80 578.80,489.80" fill="#2b6aac"/>
<polygon points="575.20,651.60 571.60,637.60 578.80,637.60" fill="#2b6aac"/>
<text transform="translate(578.17,560.60) rotate(-90) scale(1,0.95)" text-anchor="middle" font-size="10.8" fill="#2f69a6" stroke="#2f69a6" stroke-width="0.5">1000 mm</text>
<line x1="540.4" y1="530" x2="540.4" y2="550" stroke="#6a94c2" stroke-width="1.1" />
<polygon points="540.40,552.00 536.80,538.00 544.00,538.00" fill="#2b6aac"/>
<line x1="535.9" y1="552" x2="545.3" y2="552" stroke="#6a94c2" stroke-width="1.1" />
<text transform="translate(543.37,576.40) rotate(-90) scale(1,0.95)" text-anchor="middle" font-size="10.8" fill="#2f69a6" stroke="#2f69a6" stroke-width="0.5">180 mm</text>
<line x1="540.6" y1="618" x2="540.6" y2="625" stroke="#6a94c2" stroke-width="1.1" />
<polygon points="540.60,603.30 537.00,618.90 544.20,618.90" fill="#2b6aac"/>
<line x1="508.3" y1="608.9" x2="508.3" y2="621.7" stroke="#6a94c2" stroke-width="1.1" />
<line x1="527.8" y1="608.9" x2="527.8" y2="621.7" stroke="#6a94c2" stroke-width="1.1" />
<line x1="488.9" y1="615.6" x2="508.3" y2="615.6" stroke="#6a94c2" stroke-width="1.1" />
<polygon points="508.30,615.60 494.30,612.00 494.30,619.20" fill="#2b6aac"/>
<line x1="527.8" y1="615.6" x2="547.2" y2="615.6" stroke="#6a94c2" stroke-width="1.1" />
<polygon points="527.80,615.60 541.80,612.00 541.80,619.20" fill="#2b6aac"/>
<text x="519.2" y="631.7" font-size="11.2" text-anchor="middle" fill="#2f69a6" stroke="#2f69a6" stroke-width="0.5">70 mm</text>
</svg></body></html>
